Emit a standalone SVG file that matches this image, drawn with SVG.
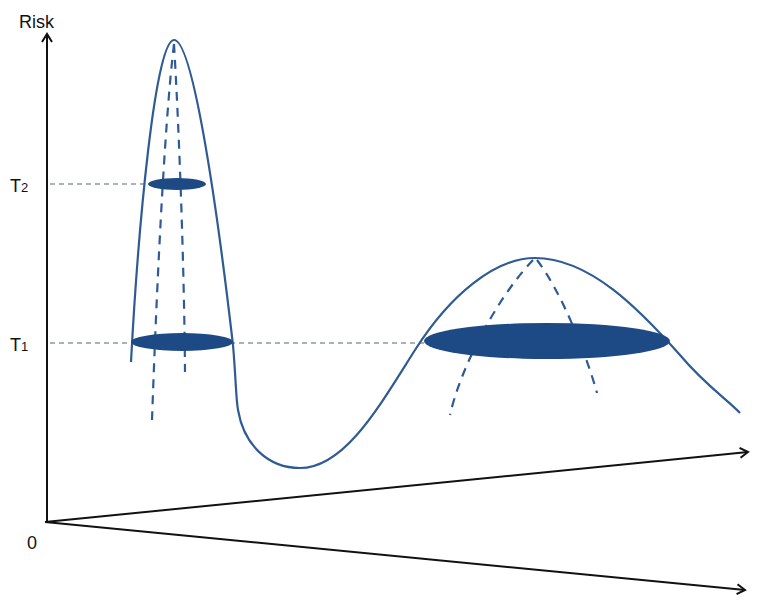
<svg xmlns="http://www.w3.org/2000/svg" width="757" height="600" viewBox="0 0 757 600">
<style>
.axis{fill:none;stroke:#111;stroke-width:2}
.curve{fill:none;stroke:#2f5b94;stroke-width:2.2}
.dash{fill:none;stroke:#2f5b94;stroke-width:2.2;stroke-dasharray:9 7}
.guide{fill:none;stroke:#55657f;stroke-width:1.2;stroke-dasharray:5 4}
.disc{fill:#1d4a84}
.lbl{font-family:"Liberation Sans",Arial,sans-serif;font-size:18px;fill:#111}
.sub{font-family:"Liberation Sans",Arial,sans-serif;font-size:13px;fill:#111}
</style>
<defs>
<marker id="arr" viewBox="0 0 12 12" refX="10" refY="6" markerWidth="12" markerHeight="12" markerUnits="userSpaceOnUse" orient="auto">
<path d="M2,1 L10,6 L2,11" fill="none" stroke="#111" stroke-width="2"/>
</marker>
</defs>
<g id="axes">
<path class="axis" d="M47,522 L47,34" marker-end="url(#arr)"/>
<path class="axis" d="M45,522 L748,452" marker-end="url(#arr)"/>
<path class="axis" d="M45,522 L745,590" marker-end="url(#arr)"/>
<text class="lbl" x="19" y="28">Risk</text>
<text class="lbl" x="27" y="549">0</text>
</g>
<g id="guides">
<line class="guide" x1="50" y1="184" x2="150" y2="184"/>
<line class="guide" x1="50" y1="343" x2="428" y2="343"/>
<text class="lbl" x="10" y="192">T<tspan class="sub">2</tspan></text>
<text class="lbl" x="10" y="351">T<tspan class="sub">1</tspan></text>
</g>
<g id="surface">
<path class="curve" d="M131,362 C138,230 155,40 174,40 C192,40 215,190 233,345 C236,380 236,400 238,410 C244,445 268,468 300,468 C345,468 380,405 415,350 C450,295 495,258 535,258 C590,258 640,310 680,355 C705,385 728,400 740,413"/>
<path class="dash" d="M174,44 C166,110 158,250 152,420"/>
<path class="dash" d="M174,44 C178,110 184,250 185,372"/>
<path class="dash" d="M533,260 C495,300 460,370 450,415"/>
<path class="dash" d="M537,260 C560,290 585,350 597,393"/>
</g>
<g id="discs">
<ellipse class="disc" cx="177" cy="184" rx="29" ry="6"/>
<ellipse class="disc" cx="182" cy="342" rx="51" ry="9"/>
<ellipse class="disc" cx="547" cy="341" rx="123" ry="18"/>
</g>
</svg>
